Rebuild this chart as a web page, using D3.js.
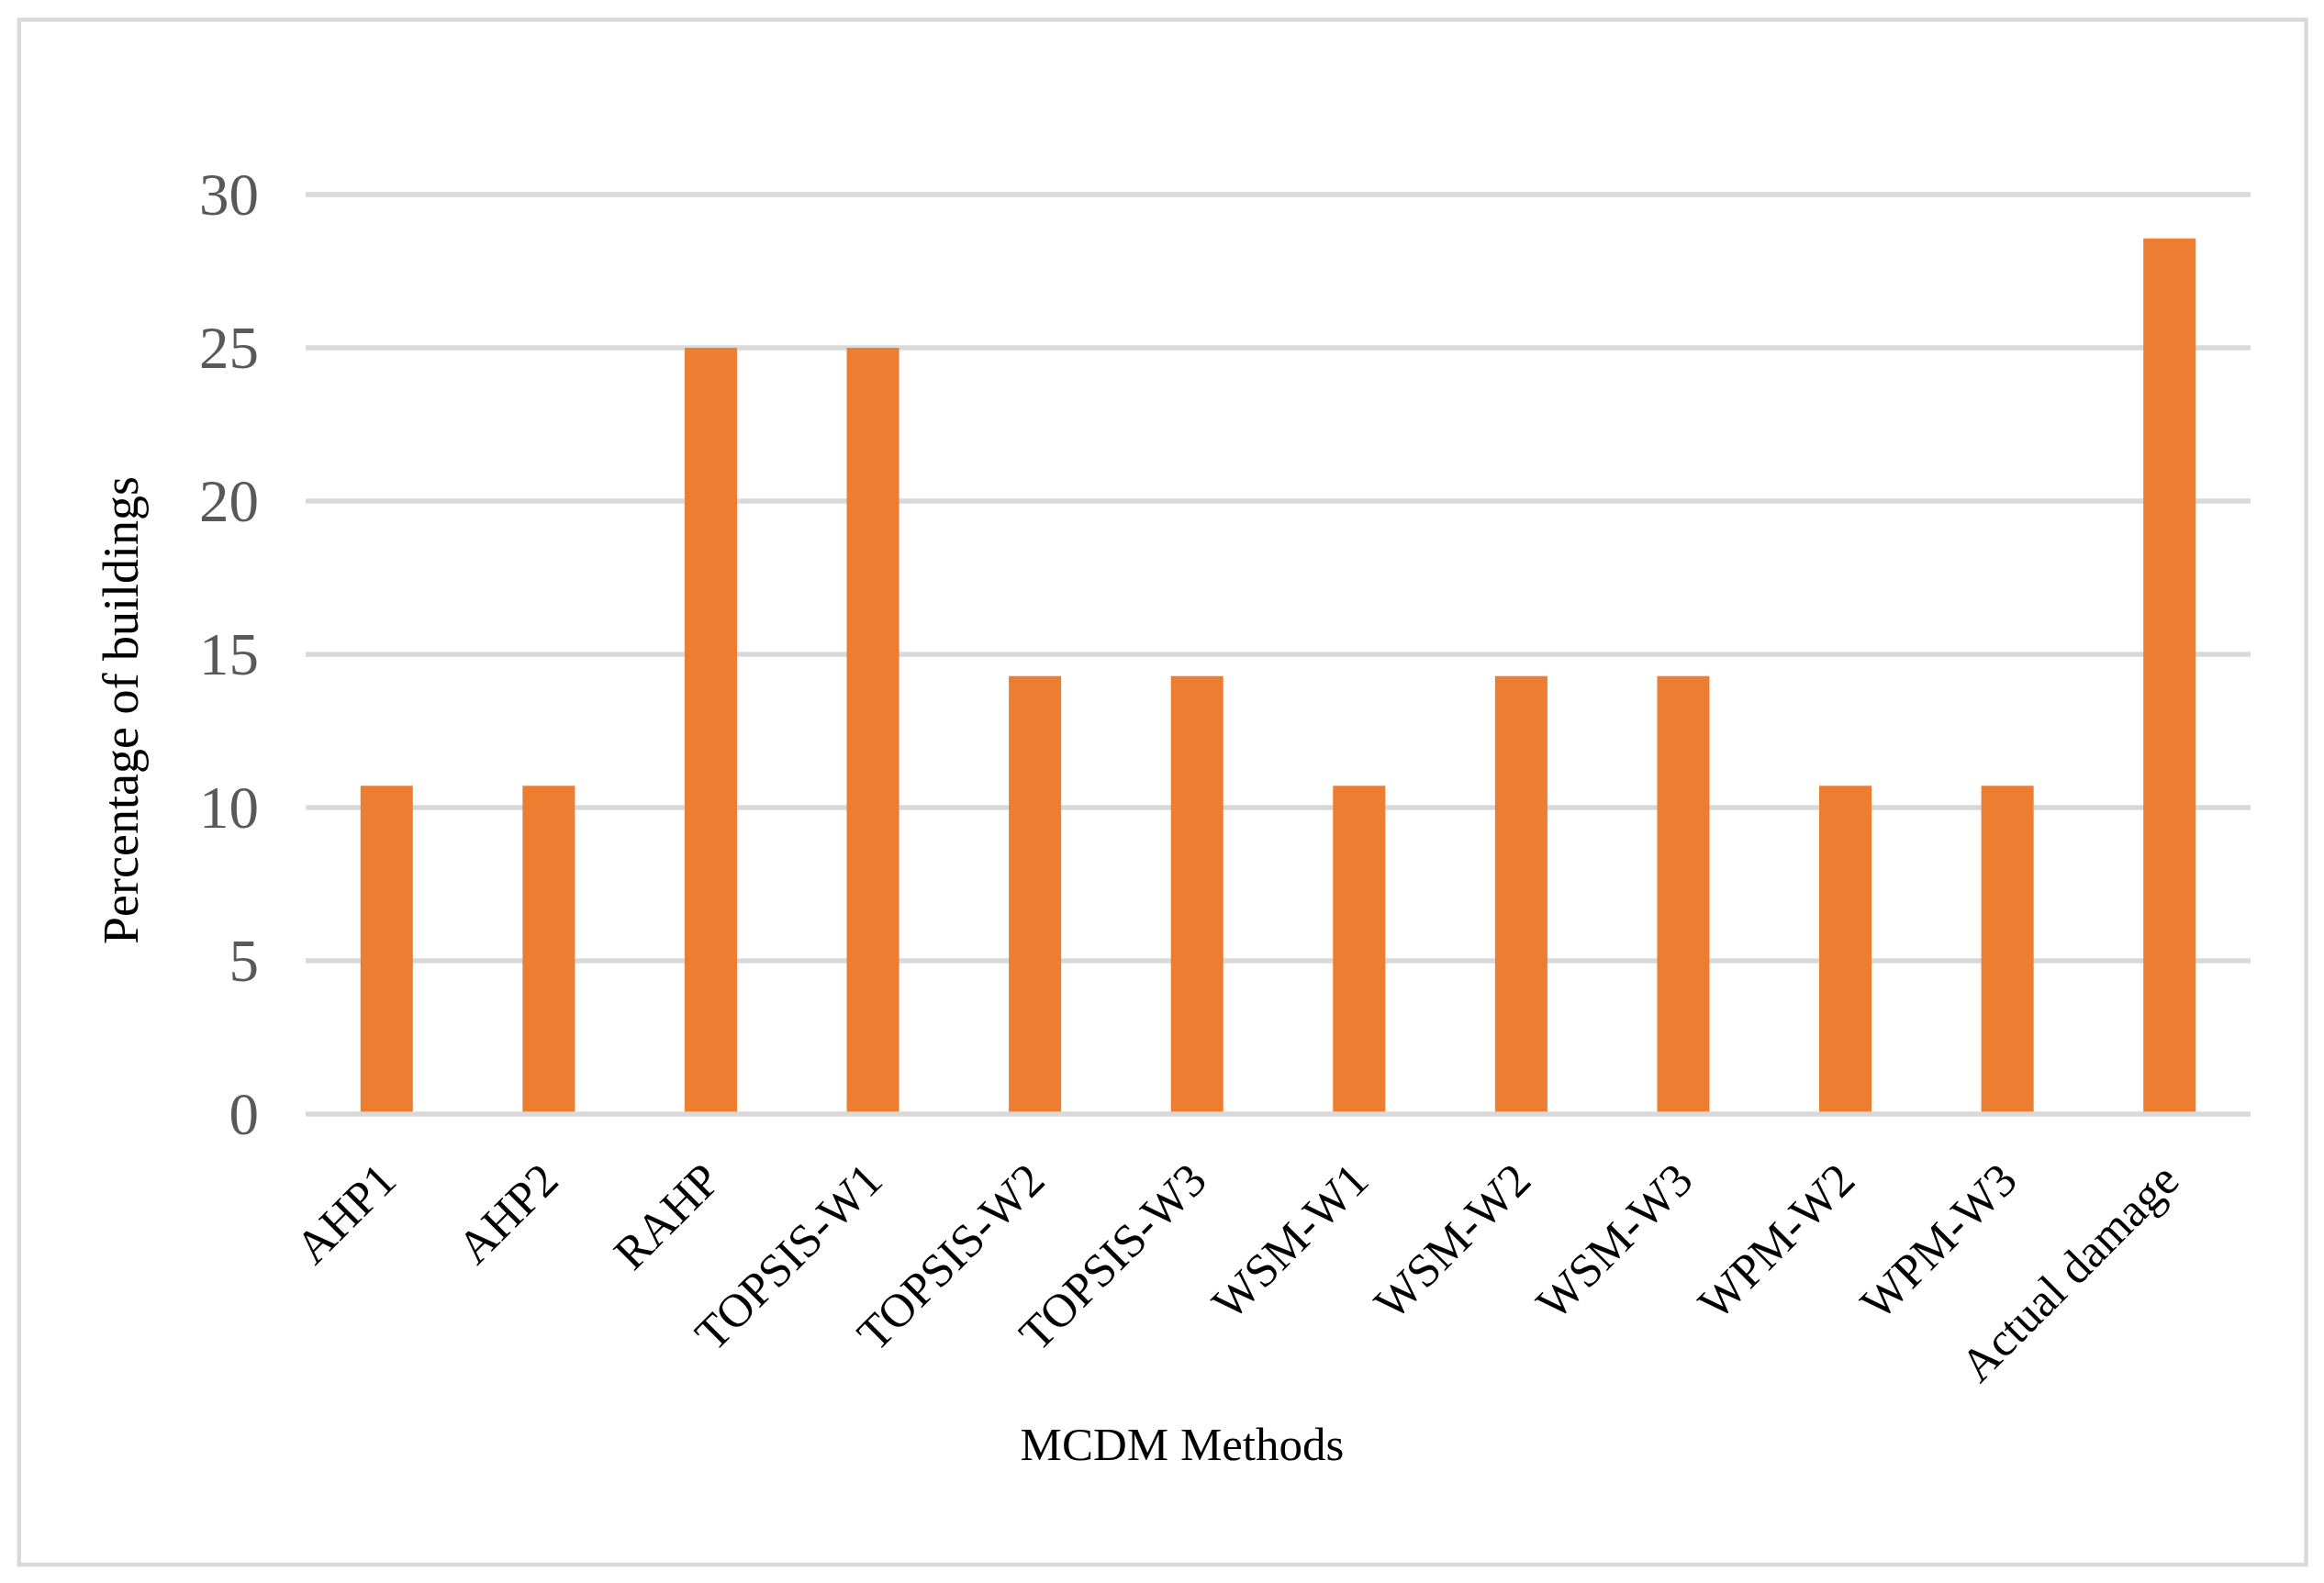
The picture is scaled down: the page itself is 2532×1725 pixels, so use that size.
<!DOCTYPE html>
<html>
<head>
<meta charset="utf-8">
<script src="https://cdn.jsdelivr.net/npm/d3@7"></script>
<style>
  html, body { margin: 0; padding: 0; background: #ffffff; }
  svg { display: block; }
</style>
</head>
<body>
<svg id="chart" width="2532" height="1725"></svg>
<script>
// ---- data ----
const categories = ["AHP1", "AHP2", "RAHP", "TOPSIS-W1", "TOPSIS-W2", "TOPSIS-W3",
                    "WSM-W1", "WSM-W2", "WSM-W3", "WPM-W2", "WPM-W3", "Actual damage"];
const values = [10.71, 10.71, 25, 25, 14.29, 14.29, 10.71, 14.29, 14.29, 10.71, 10.71, 28.57];
const yTicks = [0, 5, 10, 15, 20, 25, 30];
const xTitle = "MCDM Methods";
const yTitle = "Percentage of buildings";

// ---- layout ----
const W = 2532, H = 1725;
const plot = { left: 333, right: 2452, top: 212, bottom: 1214 };
const fontFamily = "'Liberation Serif', 'Times New Roman', serif";
const barColor = "#ED7D31";
const gridColor = "#d9d9d9";

const svg = d3.select("#chart");
svg.append("rect").attr("x", 0).attr("y", 0).attr("width", W).attr("height", H).attr("fill", "#fff");

// outer chart border
svg.append("rect")
  .attr("x", 20.8).attr("y", 21.5)
  .attr("width", 2512.5 - 20.8).attr("height", 1705 - 21.5)
  .attr("fill", "none").attr("stroke", gridColor).attr("stroke-width", 4.5);

const x = d3.scaleBand()
  .domain(categories)
  .range([plot.left, plot.right])
  .paddingInner(0.677)
  .paddingOuter(0.677 / 2);

const y = d3.scaleLinear().domain([0, 30]).range([plot.bottom, plot.top]);

// gridlines (except baseline)
svg.append("g").selectAll("line")
  .data(yTicks.filter(d => d !== 0))
  .join("line")
  .attr("x1", plot.left).attr("x2", plot.right)
  .attr("y1", d => y(d)).attr("y2", d => y(d))
  .attr("stroke", gridColor).attr("stroke-width", 5.3);

// bars
svg.append("g").selectAll("rect")
  .data(categories.map((c, i) => ({ c, v: values[i] })))
  .join("rect")
  .attr("x", d => x(d.c))
  .attr("width", x.bandwidth())
  .attr("y", d => y(d.v))
  .attr("height", d => y(0) - y(d.v))
  .attr("fill", barColor);

// baseline
svg.append("line")
  .attr("x1", plot.left).attr("x2", plot.right)
  .attr("y1", y(0)).attr("y2", y(0))
  .attr("stroke", gridColor).attr("stroke-width", 5.3);

// y tick labels
svg.append("g").selectAll("text")
  .data(yTicks)
  .join("text")
  .attr("x", 282)
  .attr("y", d => y(d) + 22)
  .attr("text-anchor", "end")
  .attr("font-family", fontFamily)
  .attr("font-size", 65)
  .attr("fill", "#595959")
  .text(d => d);

// x category labels (rotated)
svg.append("g").selectAll("text")
  .data(categories)
  .join("text")
  .attr("transform", d => `translate(${x(d) + x.bandwidth() / 2 + 13}, ${plot.bottom + 75}) rotate(-45)`)
  .attr("text-anchor", "end")
  .attr("font-family", fontFamily)
  .attr("font-size", 51.5)
  .attr("fill", "#000")
  .text(d => d);

// axis titles
svg.append("text")
  .attr("x", 1288).attr("y", 1591)
  .attr("text-anchor", "middle")
  .attr("font-family", fontFamily)
  .attr("font-size", 51)
  .attr("fill", "#000")
  .text(xTitle);

svg.append("text")
  .attr("transform", "translate(150, 774) rotate(-90)")
  .attr("text-anchor", "middle")
  .attr("font-family", fontFamily)
  .attr("font-size", 54)
  .attr("fill", "#000")
  .text(yTitle);
</script>
</body>
</html>
